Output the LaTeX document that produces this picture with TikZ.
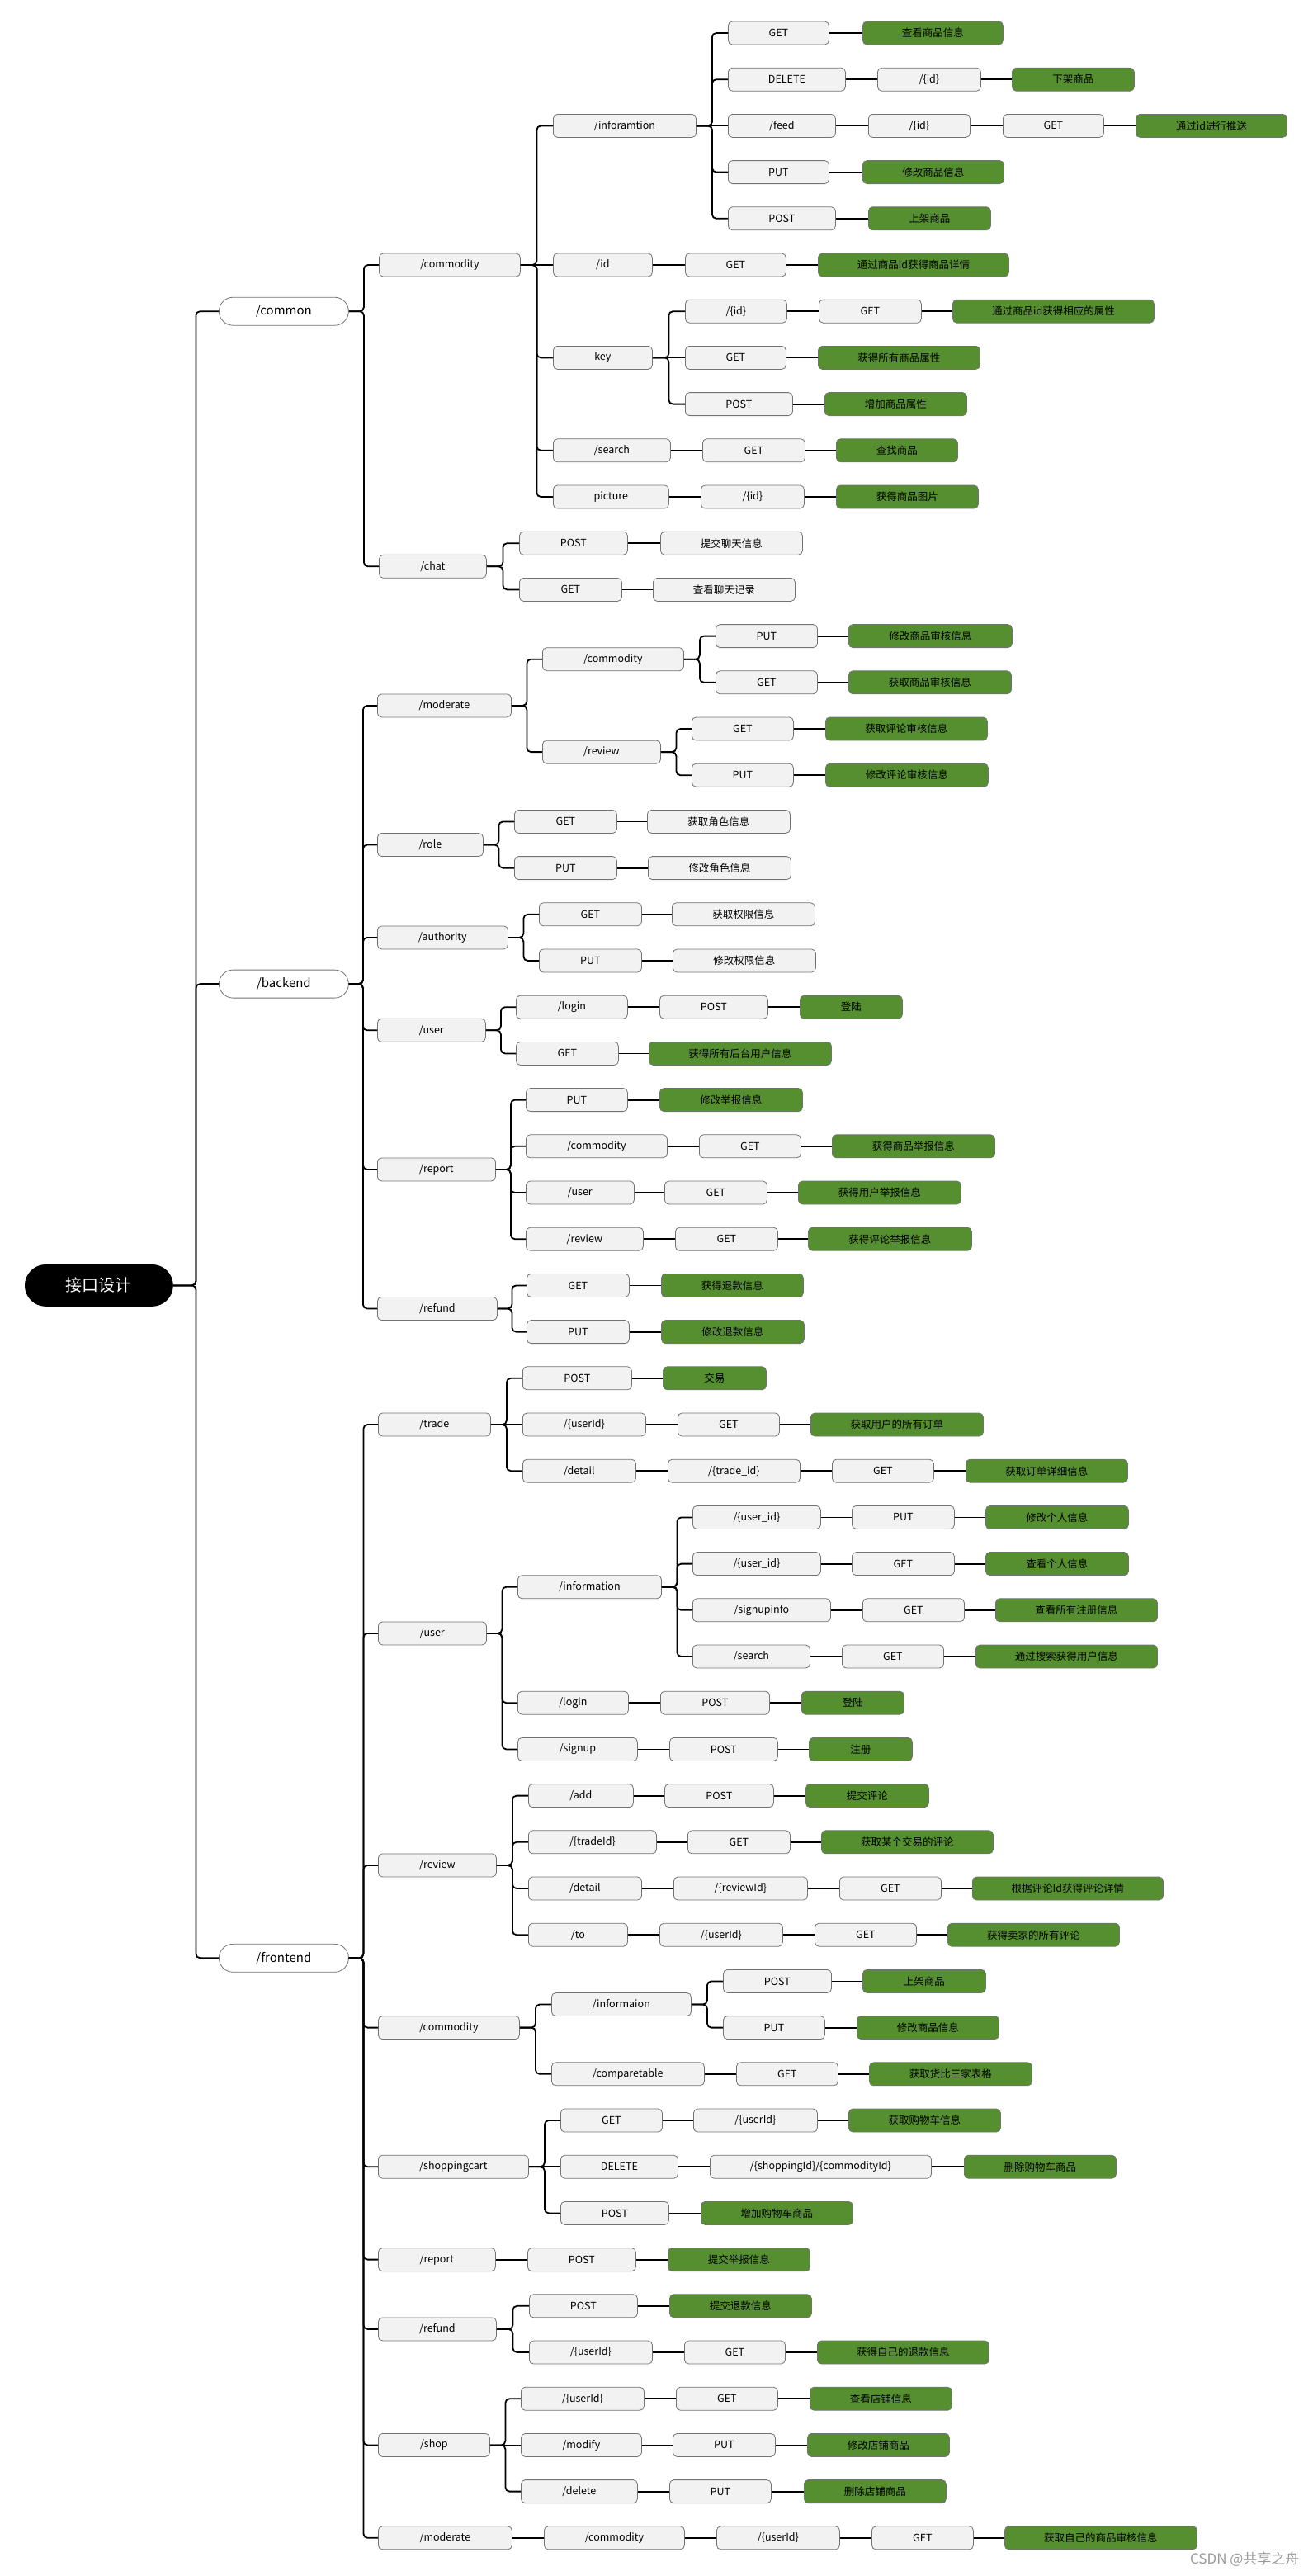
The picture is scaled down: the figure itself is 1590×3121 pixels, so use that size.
\documentclass[tikz,border=0pt]{standalone}
\usepackage{fontspec}
\setmainfont{Noto Sans CJK SC}
\usetikzlibrary{calc}
\definecolor{leafgreen}{RGB}{85,143,47}
\definecolor{boxgray}{RGB}{242,242,242}
\tikzset{
  box/.style={draw=black!55, line width=0.8pt, fill=boxgray, rounded corners=5pt, minimum height=28pt, inner sep=0pt, anchor=west, font=\fontsize{12.5}{14}\selectfont},
  leaf/.style={box, fill=leafgreen},
  top/.style={box, fill=white, minimum height=34pt, rounded corners=17pt, font=\fontsize{15}{17}\selectfont},
  root/.style={box, fill=black, draw=black, text=white, minimum height=50pt, rounded corners=25pt, font=\fontsize{20}{22}\selectfont},
  edge/.style={line width=1.8pt, rounded corners=5pt}
}
% node: [style]{name}{left x}{row}{width}{text}
\newcommand{\bx}[6][box]{\node[#1,minimum width=#5pt] (#2) at (#3,{40+56.2*#4}) {#6};}
\newcommand{\elbow}[2]{\draw[edge] (#1.east) -| ($(#1.east)!.5!(#2.west)$) |- (#2.west);}

\begin{document}
\begin{tikzpicture}[x=1pt,y=-1pt]
\useasboundingbox (0,0) rectangle (1590,3121);
\bx[root]{R}{30}{27}{179}{接口设计}
% /common
\bx[top]{C}{265}{6}{157}{/common}
\bx{cm}{459}{5}{171}{/commodity} \bx{ch}{459}{11.5}{130}{/chat}
\bx{ci}{670}{2}{173}{/inforamtion} \bx{cid}{670}{5}{120}{/id} \bx{ck}{670}{7}{120}{key}
\bx{cs}{670}{9}{142}{/search} \bx{cp}{670}{10}{140}{picture}
\bx{ci1}{882}{0}{122}{GET} \bx[leaf]{ci1a}{1045}{0}{170}{查看商品信息}
\bx{ci2}{882}{1}{142}{DELETE} \bx{ci2a}{1063}{1}{125}{/\{id\}} \bx[leaf]{ci2b}{1226}{1}{148}{下架商品}
\bx{ci3}{882}{2}{130}{/feed} \bx{ci3a}{1052}{2}{123}{/\{id\}} \bx{ci3b}{1215}{2}{122}{GET} \bx[leaf]{ci3c}{1376}{2}{183}{通过id进行推送}
\bx{ci4}{882}{3}{122}{PUT} \bx[leaf]{ci4a}{1045}{3}{171}{修改商品信息}
\bx{ci5}{882}{4}{130}{POST} \bx[leaf]{ci5a}{1052}{4}{148}{上架商品}
\bx{cid1}{830}{5}{122}{GET} \bx[leaf]{cid2}{991}{5}{231}{通过商品id获得商品详情}
\bx{ck1}{830}{6}{123}{/\{id\}} \bx{ck1a}{992}{6}{124}{GET} \bx[leaf]{ck1b}{1154}{6}{244}{通过商品id获得相应的属性}
\bx{ck2}{830}{7}{122}{GET} \bx[leaf]{ck2a}{991}{7}{196}{获得所有商品属性}
\bx{ck3}{830}{8}{130}{POST} \bx[leaf]{ck3a}{999}{8}{172}{增加商品属性}
\bx{cs1}{851}{9}{124}{GET} \bx[leaf]{cs2}{1013}{9}{147}{查找商品}
\bx{cp1}{849}{10}{125}{/\{id\}} \bx[leaf]{cp2}{1013}{10}{172}{获得商品图片}
\bx{ch1}{629}{11}{131}{POST} \bx{ch1a}{800}{11}{172}{提交聊天信息}
\bx{ch2}{629}{12}{124}{GET} \bx{ch2a}{791}{12}{172}{查看聊天记录}
% /backend
\bx[top]{B}{265}{20.5}{157}{/backend}
\bx{bm}{457}{14.5}{162}{/moderate} \bx{br}{457}{17.5}{128}{/role} \bx{ba}{457}{19.5}{158}{/authority}
\bx{bu}{457}{21.5}{131}{/user} \bx{bp}{457}{24.5}{143}{/report} \bx{bf}{457}{27.5}{145}{/refund}
\bx{bmc}{657}{13.5}{171}{/commodity} \bx{bmr}{657}{15.5}{143}{/review}
\bx{bmc1}{867}{13}{123}{PUT} \bx[leaf]{bmc1a}{1028}{13}{198}{修改商品审核信息}
\bx{bmc2}{867}{14}{123}{GET} \bx[leaf]{bmc2a}{1028}{14}{197}{获取商品审核信息}
\bx{bmr1}{838}{15}{123}{GET} \bx[leaf]{bmr1a}{1000}{15}{196}{获取评论审核信息}
\bx{bmr2}{838}{16}{123}{PUT} \bx[leaf]{bmr2a}{1000}{16}{197}{修改评论审核信息}
\bx{br1}{623}{17}{124}{GET} \bx{br1a}{784}{17}{173}{获取角色信息}
\bx{br2}{623}{18}{124}{PUT} \bx{br2a}{785}{18}{173}{修改角色信息}
\bx{ba1}{653}{19}{124}{GET} \bx{ba1a}{814}{19}{173}{获取权限信息}
\bx{ba2}{653}{20}{124}{PUT} \bx{ba2a}{815}{20}{173}{修改权限信息}
\bx{bu1}{625}{21}{135}{/login} \bx{bu1a}{799}{21}{131}{POST} \bx[leaf]{bu1b}{969}{21}{124}{登陆}
\bx{bu2}{625}{22}{124}{GET} \bx[leaf]{bu2a}{786}{22}{221}{获得所有后台用户信息}
\bx{bp1}{637}{23}{123}{PUT} \bx[leaf]{bp1a}{799}{23}{173}{修改举报信息}
\bx{bp2}{637}{24}{171}{/commodity} \bx{bp2a}{847}{24}{123}{GET} \bx[leaf]{bp2b}{1008}{24}{197}{获得商品举报信息}
\bx{bp3}{637}{25}{131}{/user} \bx{bp3a}{805}{25}{124}{GET} \bx[leaf]{bp3b}{967}{25}{197}{获得用户举报信息}
\bx{bp4}{637}{26}{142}{/review} \bx{bp4a}{818}{26}{124}{GET} \bx[leaf]{bp4b}{979}{26}{198}{获得评论举报信息}
\bx{bf1}{638}{27}{124}{GET} \bx[leaf]{bf1a}{801}{27}{172}{获得退款信息}
\bx{bf2}{638}{28}{124}{PUT} \bx[leaf]{bf2a}{801}{28}{173}{修改退款信息}
% /frontend
\bx[top]{F}{265}{41.5}{157}{/frontend}
\bx{ft}{458}{30}{136}{/trade} \bx{fu}{458}{34.5}{131}{/user} \bx{fr}{458}{39.5}{143}{/review}
\bx{fc}{458}{43}{171}{/commodity} \bx{fs}{458}{46}{182}{/shoppingcart} \bx{fp}{458}{48}{142}{/report}
\bx{ff}{458}{49.5}{143}{/refund} \bx{fh}{458}{52}{135}{/shop} \bx{fm}{458}{54}{162}{/moderate}
\bx{ft1}{633}{29}{132}{POST} \bx[leaf]{ft1a}{803}{29}{125}{交易}
\bx{ft2}{633}{30}{149}{/\{userId\}} \bx{ft2a}{821}{30}{123}{GET} \bx[leaf]{ft2b}{982}{30}{209}{获取用户的所有订单}
\bx{ft3}{633}{31}{137}{/detail} \bx{ft3a}{809}{31}{160}{/\{trade\_id\}} \bx{ft3b}{1008}{31}{123}{GET} \bx[leaf]{ft3c}{1170}{31}{196}{获取订单详细信息}
\bx{fu1}{627}{33.5}{174}{/information}
\bx{fu11}{839}{32}{155}{/\{user\_id\}} \bx{fu11a}{1032}{32}{124}{PUT} \bx[leaf]{fu11b}{1194}{32}{173}{修改个人信息}
\bx{fu12}{839}{33}{155}{/\{user\_id\}} \bx{fu12a}{1032}{33}{124}{GET} \bx[leaf]{fu12b}{1194}{33}{173}{查看个人信息}
\bx{fu13}{839}{34}{167}{/signupinfo} \bx{fu13a}{1045}{34}{123}{GET} \bx[leaf]{fu13b}{1206}{34}{196}{查看所有注册信息}
\bx{fu14}{839}{35}{142}{/search} \bx{fu14a}{1020}{35}{123}{GET} \bx[leaf]{fu14b}{1182}{35}{220}{通过搜索获得用户信息}
\bx{fu2}{627}{36}{134}{/login} \bx{fu2a}{800}{36}{132}{POST} \bx[leaf]{fu2b}{971}{36}{124}{登陆}
\bx{fu3}{627}{37}{145}{/signup} \bx{fu3a}{811}{37}{131}{POST} \bx[leaf]{fu3b}{980}{37}{125}{注册}
\bx{fr1}{640}{38}{127}{/add} \bx{fr1a}{805}{38}{132}{POST} \bx[leaf]{fr1b}{976}{38}{149}{提交评论}
\bx{fr2}{640}{39}{155}{/\{tradeId\}} \bx{fr2a}{833}{39}{124}{GET} \bx[leaf]{fr2b}{995}{39}{208}{获取某个交易的评论}
\bx{fr3}{640}{40}{137}{/detail} \bx{fr3a}{816}{40}{162}{/\{reviewId\}} \bx{fr3b}{1017}{40}{123}{GET} \bx[leaf]{fr3c}{1178}{40}{231}{根据评论Id获得评论详情}
\bx{fr4}{640}{41}{120}{/to} \bx{fr4a}{799}{41}{149}{/\{userId\}} \bx{fr4b}{987}{41}{123}{GET} \bx[leaf]{fr4c}{1148}{41}{208}{获得卖家的所有评论}
\bx{fc1}{668}{42.5}{169}{/informaion}
\bx{fc11}{876}{42}{131}{POST} \bx[leaf]{fc11a}{1045}{42}{149}{上架商品}
\bx{fc12}{876}{43}{123}{PUT} \bx[leaf]{fc12a}{1038}{43}{172}{修改商品信息}
\bx{fc2}{668}{44}{185}{/comparetable} \bx{fc2a}{892}{44}{123}{GET} \bx[leaf]{fc2b}{1053}{44}{197}{获取货比三家表格}
\bx{fs1}{679}{45}{123}{GET} \bx{fs1a}{840}{45}{150}{/\{userId\}} \bx[leaf]{fs1b}{1028}{45}{184}{获取购物车信息}
\bx{fs2}{679}{46}{142}{DELETE} \bx{fs2a}{860}{46}{268}{/\{shoppingId\}/\{commodityId\}} \bx[leaf]{fs2b}{1168}{46}{184}{删除购物车商品}
\bx{fs3}{679}{47}{131}{POST} \bx[leaf]{fs3a}{849}{47}{184}{增加购物车商品}
\bx{fp1}{639}{48}{131}{POST} \bx[leaf]{fp1a}{809}{48}{172}{提交举报信息}
\bx{ff1}{641}{49}{131}{POST} \bx[leaf]{ff1a}{811}{49}{172}{提交退款信息}
\bx{ff2}{641}{50}{149}{/\{userId\}} \bx{ff2a}{829}{50}{122}{GET} \bx[leaf]{ff2b}{990}{50}{208}{获得自己的退款信息}
\bx{fh1}{631}{51}{149}{/\{userId\}} \bx{fh1a}{819}{51}{123}{GET} \bx[leaf]{fh1b}{981}{51}{172}{查看店铺信息}
\bx{fh2}{631}{52}{146}{/modify} \bx{fh2a}{815}{52}{124}{PUT} \bx[leaf]{fh2b}{978}{52}{172}{修改店铺商品}
\bx{fh3}{631}{53}{141}{/delete} \bx{fh3a}{811}{53}{123}{PUT} \bx[leaf]{fh3b}{974}{53}{172}{删除店铺商品}
\bx{fm1}{659}{54}{170}{/commodity} \bx{fm2}{868}{54}{149}{/\{userId\}} \bx{fm3}{1056}{54}{123}{GET} \bx[leaf]{fm4}{1217}{54}{233}{获取自己的商品审核信息}
\node[anchor=east, text=black!40, font=\fontsize{17}{19}\selectfont] (wm) at (1578,3101) {CSDN @共享之舟};
% branches
\foreach \p/\c in {R/C, R/B, R/F, C/cm, C/ch, cm/ci, cm/ck, cm/cs, cm/cp, ci/ci1, ci/ci2, ci/ci4, ci/ci5,
  ck/ck1, ck/ck3, ch/ch1, ch/ch2, B/bm, B/br, B/ba, B/bu, B/bp, B/bf, bm/bmc, bm/bmr, bmc/bmc1, bmc/bmc2,
  bmr/bmr1, bmr/bmr2, br/br1, br/br2, ba/ba1, ba/ba2, bu/bu1, bu/bu2, bp/bp1, bp/bp2, bp/bp3, bp/bp4, bf/bf1, bf/bf2,
  F/ft, F/fu, F/fr, F/fc, F/fs, F/fp, F/ff, F/fh, F/fm, ft/ft1, ft/ft3, fu/fu1, fu/fu2, fu/fu3,
  fu1/fu11, fu1/fu12, fu1/fu13, fu1/fu14, fr/fr1, fr/fr2, fr/fr3, fr/fr4, fc/fc1, fc/fc2, fc1/fc11, fc1/fc12,
  fs/fs1, fs/fs3, ff/ff1, ff/ff2, fh/fh1, fh/fh3}
  {\elbow{\p}{\c}}
% same row
\foreach \a/\b in {cm/cid, ci/ci3, ck/ck2, ci1/ci1a, ci2/ci2a, ci2a/ci2b, ci3/ci3a, ci3a/ci3b, ci3b/ci3c, ci4/ci4a, ci5/ci5a,
  cid/cid1, cid1/cid2, ck1/ck1a, ck1a/ck1b, ck2/ck2a, ck3/ck3a, cs/cs1, cs1/cs2, cp/cp1, cp1/cp2, ch1/ch1a, ch2/ch2a,
  bmc1/bmc1a, bmc2/bmc2a, bmr1/bmr1a, bmr2/bmr2a, br1/br1a, br2/br2a, ba1/ba1a, ba2/ba2a, bu1/bu1a, bu1a/bu1b, bu2/bu2a,
  bp1/bp1a, bp2/bp2a, bp2a/bp2b, bp3/bp3a, bp3a/bp3b, bp4/bp4a, bp4a/bp4b, bf1/bf1a, bf2/bf2a,
  ft/ft2, ft1/ft1a, ft2/ft2a, ft2a/ft2b, ft3/ft3a, ft3a/ft3b, ft3b/ft3c,
  fu11/fu11a, fu11a/fu11b, fu12/fu12a, fu12a/fu12b, fu13/fu13a, fu13a/fu13b, fu14/fu14a, fu14a/fu14b,
  fu2/fu2a, fu2a/fu2b, fu3/fu3a, fu3a/fu3b, fr1/fr1a, fr1a/fr1b, fr2/fr2a, fr2a/fr2b, fr3/fr3a, fr3a/fr3b, fr3b/fr3c,
  fr4/fr4a, fr4a/fr4b, fr4b/fr4c, fc11/fc11a, fc12/fc12a, fc2/fc2a, fc2a/fc2b,
  fs/fs2, fs1/fs1a, fs1a/fs1b, fs2/fs2a, fs2a/fs2b, fs3/fs3a, fp/fp1, fp1/fp1a, ff1/ff1a, ff2/ff2a, ff2a/ff2b,
  fh/fh2, fh1/fh1a, fh1a/fh1b, fh2/fh2a, fh2a/fh2b, fh3/fh3a, fh3a/fh3b, fm/fm1, fm1/fm2, fm2/fm3, fm3/fm4}
  {\draw[edge] (\a) -- (\b);}
\end{tikzpicture}
\end{document}
